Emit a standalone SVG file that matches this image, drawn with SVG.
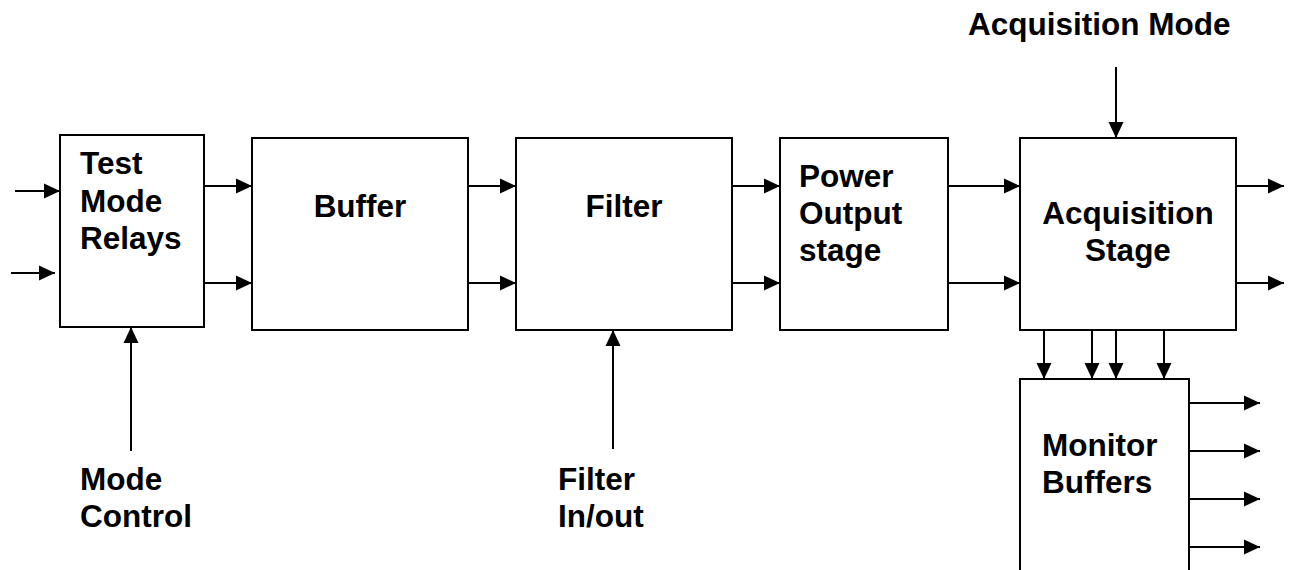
<svg xmlns="http://www.w3.org/2000/svg" width="1293" height="570" viewBox="0 0 1293 570">
<style>
.box{fill:#fff;stroke:#000;stroke-width:2}
.lbl{font-family:"Liberation Sans",Arial,sans-serif;font-weight:bold;font-size:31.5px;fill:#000}
.c{text-anchor:middle}
.w{stroke:#000;stroke-width:2;fill:none;marker-end:url(#ah)}
</style>
<defs>
<marker id="ah" markerUnits="userSpaceOnUse" markerWidth="16" markerHeight="16" refX="16" refY="8" orient="auto">
<path d="M0,0.5 L16,8 L0,15.5 z" fill="#000"/>
</marker>
</defs>
<rect width="1293" height="570" fill="#fff"/>
<g id="test-mode-relays">
<rect class="box" x="60" y="135" width="144" height="192"/>
<text class="lbl" x="80" y="174">Test</text>
<text class="lbl" x="80" y="212">Mode</text>
<text class="lbl" x="80" y="249">Relays</text>
</g>
<g id="buffer">
<rect class="box" x="252" y="138" width="216" height="192"/>
<text class="lbl c" x="360" y="217">Buffer</text>
</g>
<g id="filter">
<rect class="box" x="516" y="138" width="216" height="192"/>
<text class="lbl c" x="624" y="217">Filter</text>
</g>
<g id="power-output">
<rect class="box" x="780" y="138" width="168" height="192"/>
<text class="lbl" x="799" y="187">Power</text>
<text class="lbl" x="799" y="224">Output</text>
<text class="lbl" x="799" y="261">stage</text>
</g>
<g id="acquisition-stage">
<rect class="box" x="1020" y="138" width="216" height="192"/>
<text class="lbl c" x="1128" y="224">Acquisition</text>
<text class="lbl c" x="1128" y="261">Stage</text>
</g>
<g id="monitor-buffers">
<rect class="box" x="1020" y="379" width="169" height="200"/>
<text class="lbl" x="1042" y="456">Monitor</text>
<text class="lbl" x="1042" y="493">Buffers</text>
</g>
<g id="mode-control">
<text class="lbl" x="80" y="490">Mode</text>
<text class="lbl" x="80" y="527">Control</text>
</g>
<g id="filter-inout">
<text class="lbl" x="558" y="490">Filter</text>
<text class="lbl" x="558" y="527">In/out</text>
</g>
<g id="acquisition-mode">
<text class="lbl" x="968" y="35">Acquisition Mode</text>
</g>
<g id="connectors">
<line class="w" x1="15" y1="191" x2="60" y2="191"/>
<line class="w" x1="11" y1="273" x2="55" y2="273"/>
<line class="w" x1="204" y1="186" x2="252" y2="186"/>
<line class="w" x1="204" y1="283" x2="252" y2="283"/>
<line class="w" x1="468" y1="186" x2="516" y2="186"/>
<line class="w" x1="468" y1="283" x2="516" y2="283"/>
<line class="w" x1="732" y1="186" x2="780" y2="186"/>
<line class="w" x1="732" y1="283" x2="780" y2="283"/>
<line class="w" x1="948" y1="186" x2="1020" y2="186"/>
<line class="w" x1="948" y1="283" x2="1020" y2="283"/>
<line class="w" x1="1236" y1="186" x2="1284" y2="186"/>
<line class="w" x1="1236" y1="283" x2="1284" y2="283"/>
<line class="w" x1="131" y1="451" x2="131" y2="327"/>
<line class="w" x1="613" y1="449" x2="613" y2="330"/>
<line class="w" x1="1116" y1="67" x2="1116" y2="138"/>
<line class="w" x1="1044" y1="330" x2="1044" y2="379"/>
<line class="w" x1="1092" y1="330" x2="1092" y2="379"/>
<line class="w" x1="1116" y1="330" x2="1116" y2="379"/>
<line class="w" x1="1164" y1="330" x2="1164" y2="379"/>
<line class="w" x1="1189" y1="403" x2="1260" y2="403"/>
<line class="w" x1="1189" y1="451" x2="1260" y2="451"/>
<line class="w" x1="1189" y1="499" x2="1260" y2="499"/>
<line class="w" x1="1189" y1="547" x2="1260" y2="547"/>
</g>
</svg>
